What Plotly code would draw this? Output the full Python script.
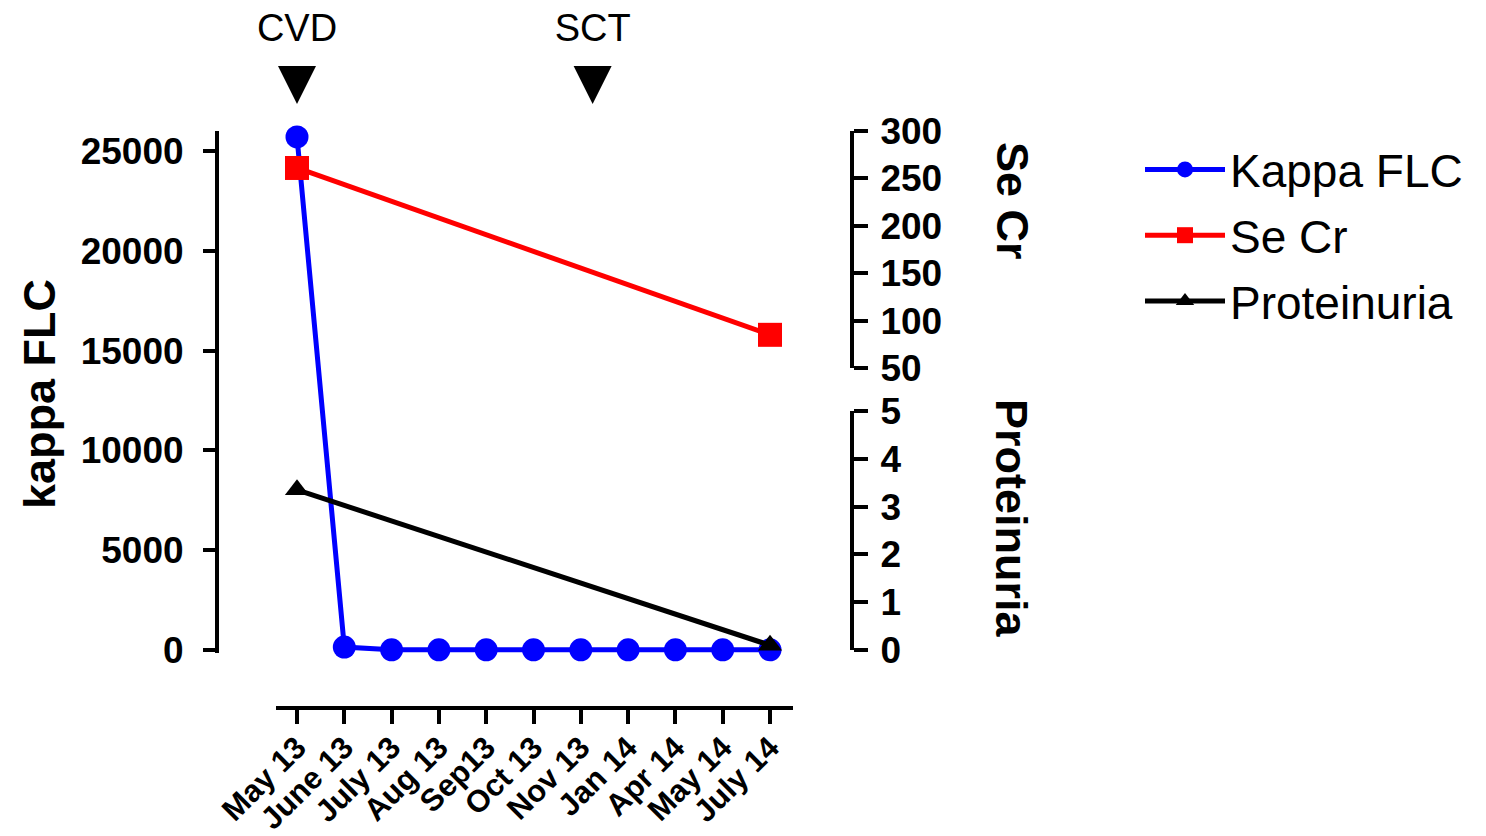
import plotly.graph_objects as go

# ---- data ----
months = ["May 13", "June 13", "July 13", "Aug 13", "Sep13", "Oct 13",
          "Nov 13", "Jan 14", "Apr 14", "May 14", "July 14"]
kappa_flc = [25700, 150, 10, 10, 10, 10, 10, 10, 10, 10, 10]
se_cr = [261, None, None, None, None, None, None, None, None, None, 85]
proteinuria = [3.35, None, None, None, None, None, None, None, None, None, 0.1]
event_labels = ["CVD", "SCT"]
event_pos = [0, 6.25]
kappa_ticks = [0, 5000, 10000, 15000, 20000, 25000]
secr_ticks = [50, 100, 150, 200, 250, 300]
prot_ticks = [0, 1, 2, 3, 4, 5]

W, H = 1486, 836
FONT = "Liberation Sans, Arial, sans-serif"
xs = list(range(len(months)))

def px_x(p):
    return p / W

def px_y(p):
    return 1 - p / H

fig = go.Figure()

fig.add_trace(go.Scatter(
    x=xs, y=kappa_flc, name="Kappa FLC", mode="lines+markers", legendgroup="a",
    line=dict(color="#0000FF", width=5),
    marker=dict(symbol="circle", size=23, color="#0000FF"),
    cliponaxis=False, xaxis="x", yaxis="y"))
fig.add_trace(go.Scatter(
    x=xs, y=se_cr, name="Se Cr", mode="lines+markers", connectgaps=True, legendgroup="b",
    line=dict(color="#FF0000", width=5),
    marker=dict(symbol="square", size=24, color="#FF0000"),
    cliponaxis=False, xaxis="x", yaxis="y2"))
fig.add_trace(go.Scatter(
    x=xs, y=proteinuria, name="Proteinuria", mode="lines+markers", connectgaps=True,
    legendgroup="c",
    line=dict(color="#000000", width=5),
    marker=dict(symbol="triangle-up", size=21, color="#000000"),
    cliponaxis=False, xaxis="x", yaxis="y3"))

# event arrows + labels
fig.add_trace(go.Scatter(
    x=event_pos, y=[0.17] * len(event_pos), mode="markers",
    marker=dict(symbol="arrow-down", size=38, color="#000000"),
    showlegend=False, cliponaxis=False, hoverinfo="skip",
    xaxis="x", yaxis="y4"))
fig.add_trace(go.Scatter(
    x=event_pos, y=[0.745] * len(event_pos), mode="text", text=event_labels,
    textfont=dict(family=FONT, size=38, color="#000000"),
    showlegend=False, cliponaxis=False, hoverinfo="skip",
    xaxis="x", yaxis="y4"))

axis_common = dict(showgrid=False, zeroline=False, showline=True, automargin=False,
                   linecolor="#000000", linewidth=4, ticks="outside",
                   tickcolor="#000000", tickwidth=4)

fig.update_layout(
    template="none",
    width=W, height=H, autosize=False,
    margin=dict(l=0, r=0, t=0, b=0, pad=0),
    paper_bgcolor="white", plot_bgcolor="rgba(0,0,0,0)",
    font=dict(family=FONT, color="#000000"),
    xaxis=dict(
        **axis_common, domain=[px_x(276), px_x(793)],
        range=[-0.444, 10.486], tickmode="array", tickvals=xs, ticktext=months,
        ticklen=14, tickangle=-45, anchor="free", position=px_y(708),
        tickfont=dict(family=FONT, size=31, weight="bold"),
        ticklabelstandoff=-7),
    yaxis=dict(
        **axis_common, domain=[px_y(653), px_y(131)], range=[-150, 26000],
        tickmode="array", tickvals=kappa_ticks, tickformat="d", ticklen=12,
        anchor="free", position=px_x(217), side="left",
        tickfont=dict(family=FONT, size=37, weight="bold"),
        ticklabelstandoff=12),
    yaxis2=dict(
        **axis_common, domain=[px_y(368), px_y(131)], range=[50, 300],
        tickmode="array", tickvals=secr_ticks, ticklen=14,
        anchor="free", position=px_x(852), side="right",
        tickfont=dict(family=FONT, size=37, weight="bold"),
        ticklabelstandoff=5),
    yaxis3=dict(
        **axis_common, domain=[px_y(650), px_y(411)], range=[0, 5],
        tickmode="array", tickvals=prot_ticks, ticklen=14,
        anchor="free", position=px_x(852), side="right",
        tickfont=dict(family=FONT, size=37, weight="bold"),
        ticklabelstandoff=5),
    yaxis4=dict(domain=[0.85, 1.0], range=[0, 1], visible=False, automargin=False,
                anchor="free", position=0),
    legend=dict(
        x=px_x(1140), y=px_y(133), xanchor="left", yanchor="top",
        font=dict(family=FONT, size=46, color="#000000"),
        bgcolor="rgba(0,0,0,0)", itemwidth=80, tracegroupgap=3,
        traceorder="grouped"),
    showlegend=True,
    annotations=[
        dict(text="kappa FLC", x=px_x(39), y=px_y(394), xref="paper", yref="paper",
             xanchor="center", yanchor="middle",
             textangle=-90, showarrow=False,
             font=dict(family=FONT, size=45, weight="bold")),
        dict(text="Se Cr", x=px_x(1012), y=px_y(201), xref="paper", yref="paper",
             xanchor="center", yanchor="middle",
             textangle=90, showarrow=False,
             font=dict(family=FONT, size=45, weight="bold")),
        dict(text="Proteinuria", x=px_x(1012), y=px_y(518), xref="paper", yref="paper",
             xanchor="center", yanchor="middle",
             textangle=90, showarrow=False,
             font=dict(family=FONT, size=45, weight="bold")),
    ],
)

fig.write_html("out.html")
